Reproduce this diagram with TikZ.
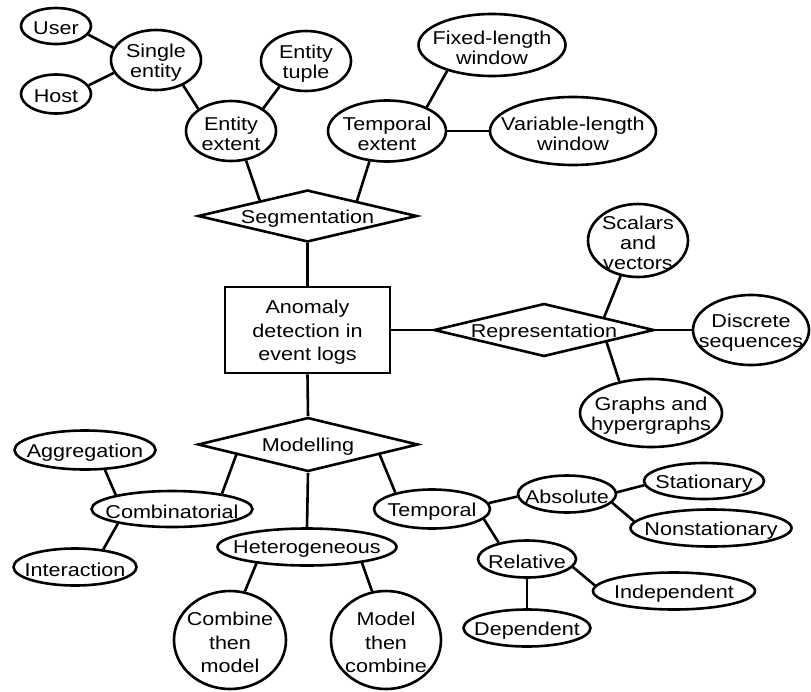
\documentclass[tikz,border=0pt]{standalone}
\usepackage{fontspec}
\newfontfamily\diagfont[FakeStretch=1.16]{Liberation Sans}
\usetikzlibrary{shapes.geometric}
\tikzset{
  shp/.style={draw=black, line width=2.6pt, inner sep=0pt, fill=white},
  ell/.style={shp, ellipse},
  dia/.style={shp, diamond, shape aspect=4},
  rbox/.style={shp, rectangle},
  txt/.style={font=\diagfont\fontsize{18.6pt}{20pt}\selectfont, align=center, inner sep=0pt, yshift=-2.5pt},
  tall/.style={font=\diagfont\fontsize{18.6pt}{23.5pt}\selectfont},
  link/.style={draw=black, line width=2.6pt},
}
\begin{document}
\begin{tikzpicture}[x=1pt, y=-1pt]
\useasboundingbox (0,0) rectangle (811,691);

% ---- Segmentation branch ----
\node[ell, minimum width=70pt, minimum height=36pt, label={[txt]center:{User}}] (user) at (56,26) {};
\node[ell, minimum width=70pt, minimum height=39pt, label={[txt]center:{Host}}] (host) at (56,94) {};
\node[ell, minimum width=90pt, minimum height=60pt, label={[txt]center:{Single\\entity}}] (single) at (156,60) {};
\node[ell, minimum width=90pt, minimum height=60pt, label={[txt]center:{Entity\\extent}}] (entext) at (231,131) {};
\node[ell, minimum width=90pt, minimum height=60pt, label={[txt]center:{Entity\\tuple}}] (tuple) at (306,61) {};
\node[ell, minimum width=147pt, minimum height=62pt, label={[txt]center:{Fixed-length\\window}}] (fixed) at (492,45) {};
\node[ell, minimum width=118pt, minimum height=61pt, label={[txt]center:{Temporal\\extent}}] (tempext) at (387,131) {};
\node[ell, minimum width=166pt, minimum height=68pt, label={[txt]center:{Variable-length\\window}}] (varwin) at (573,131) {};
\node[dia, minimum width=219pt, minimum height=52pt, label={[txt]center:{Segmentation}}] (seg) at (307.5,216) {};

% ---- Central box ----
\node[rbox, minimum width=165pt, minimum height=86pt, label={[txt,tall]center:{Anomaly\\detection in\\event logs}}] (box) at (307.5,330) {};

% ---- Representation branch ----
\node[dia, minimum width=220pt, minimum height=53pt, label={[txt]center:{Representation}}] (rep) at (544,330) {};
\node[ell, minimum width=100pt, minimum height=73pt, label={[txt]center:{Scalars\\and\\vectors}}] (scal) at (638,240.5) {};
\node[ell, minimum width=116pt, minimum height=70pt, label={[txt]center:{Discrete\\sequences}}] (disc) at (751,330) {};
\node[ell, minimum width=142pt, minimum height=68pt, label={[txt]center:{Graphs and\\hypergraphs}}] (graphs) at (651,413) {};

% ---- Modelling branch ----
\node[dia, minimum width=220pt, minimum height=54pt, label={[txt]center:{Modelling}}] (model) at (308,444.5) {};
\node[ell, minimum width=161pt, minimum height=36pt, label={[txt]center:{Combinatorial}}] (comb) at (172,509) {};
\node[ell, minimum width=141pt, minimum height=39pt, label={[txt]center:{Aggregation}}] (agg) at (85,450) {};
\node[ell, minimum width=123pt, minimum height=37pt, label={[txt]center:{Interaction}}] (inter) at (75,567) {};
\node[ell, minimum width=179pt, minimum height=37pt, label={[txt]center:{Heterogeneous}}] (het) at (307,547) {};
\node[ell, minimum width=112pt, minimum height=98pt, label={[txt,tall]center:{Combine\\then\\model}}] (cthen) at (230,640) {};
\node[ell, minimum width=110pt, minimum height=98pt, label={[txt,tall]center:{Model\\then\\combine}}] (mthen) at (386,640) {};
\node[ell, minimum width=116pt, minimum height=39pt, label={[txt]center:{Temporal}}] (temporal) at (432,509) {};
\node[ell, minimum width=98pt, minimum height=37pt, label={[txt]center:{Absolute}}] (abs) at (567,494) {};
\node[ell, minimum width=120pt, minimum height=36pt, label={[txt]center:{Stationary}}] (stat) at (704,481) {};
\node[ell, minimum width=161pt, minimum height=37pt, label={[txt]center:{Nonstationary}}] (nonstat) at (711,528) {};
\node[ell, minimum width=98pt, minimum height=37pt, label={[txt]center:{Relative}}] (rel) at (527,559) {};
\node[ell, minimum width=162pt, minimum height=37pt, label={[txt]center:{Independent}}] (indep) at (674,591) {};
\node[ell, minimum width=127pt, minimum height=37pt, label={[txt]center:{Dependent}}] (dep) at (527,628) {};

% ---- Connectors ----
\draw[link] (user.-15) -- (single.164);
\draw[link] (host.15) -- (single.-163);
\draw[link] (single.-43) -- (entext.146);
\draw[link] (entext.35) -- (tuple.-136);
\draw[link] (entext.-63) -- (seg.162);
\draw[link] (tempext.-120) -- (seg.17);
\draw[link] (tempext.31) -- (fixed.-150);
\draw[link] (tempext.east) -- (varwin.west);
\draw[link] (seg.south) -- (box.north);
\draw[link] (box.east) -- (rep.west);
\draw[link] (rep.12) -- (scal.-116);
\draw[link] (rep.east) -- (disc.west);
\draw[link] (rep.-11) -- (graphs.135);
\draw[link] (box.south) -- (model.north);
\draw[link] (model.-172) -- (comb.17);
\draw[link] (agg.-45) -- (comb.166);
\draw[link] (comb.-165) -- (inter.32);
\draw[link] (model.south) -- (het.north);
\draw[link] (het.-162) -- (cthen.73);
\draw[link] (het.-16) -- (mthen.106);
\draw[link] (model.-8) -- (temporal.156);
\draw[link] (temporal.6) -- (abs.-177);
\draw[link] (abs.2) -- (stat.-176);
\draw[link] (abs.-11) -- (nonstat.175);
\draw[link] (temporal.-11) -- (rel.150);
\draw[link] (rel.-10) -- (indep.176);
\draw[link] (rel.south) -- (dep.north);
\end{tikzpicture}
\end{document}
